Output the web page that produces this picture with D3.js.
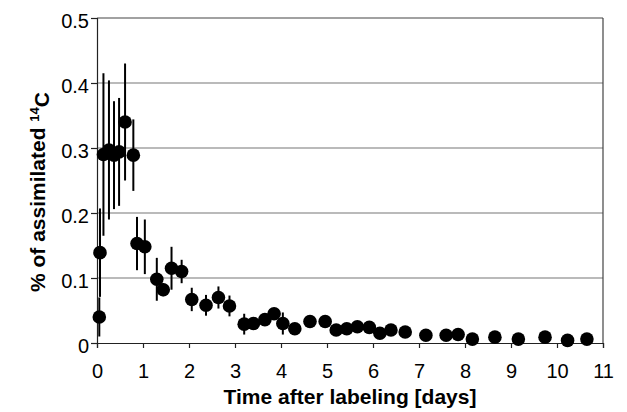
<!DOCTYPE html>
<html>
<head>
<meta charset="utf-8">
<script src="https://cdn.jsdelivr.net/npm/d3@7"></script>
<style>
body { margin: 0; background: #fff; }
svg text { font-family: "Liberation Sans", Arial, sans-serif; fill: #000; }
</style>
</head>
<body>
<script>
// time after labeling (days)
var days = [0.05, 0.065, 0.14, 0.26, 0.37, 0.48, 0.61, 0.79, 0.87, 1.04,
  1.30, 1.44, 1.62, 1.84, 2.06, 2.37, 2.64, 2.88, 3.20, 3.40,
  3.65, 3.85, 4.04, 4.30, 4.63, 4.96, 5.20, 5.43, 5.66, 5.92,
  6.15, 6.39, 6.70, 7.15, 7.59, 7.85, 8.16, 8.65, 9.16, 9.74,
  10.23, 10.65];
// % of assimilated 14C
var pct = [0.040, 0.139, 0.290, 0.297, 0.289, 0.294, 0.340, 0.289, 0.153, 0.148,
  0.098, 0.082, 0.115, 0.110, 0.067, 0.058, 0.070, 0.057, 0.029, 0.030,
  0.036, 0.045, 0.030, 0.022, 0.033, 0.033, 0.020, 0.022, 0.025, 0.024,
  0.015, 0.020, 0.017, 0.012, 0.012, 0.013, 0.006, 0.009, 0.006, 0.009,
  0.004, 0.006];
// error (+/-)
var err = [0.030, 0.068, 0.125, 0.107, 0.083, 0.083, 0.090, 0.055, 0.041, 0.042,
  0.033, 0.010, 0.033, 0.018, 0.018, 0.016, 0.017, 0.016, 0.016, 0.008,
  0.006, 0.009, 0.017, 0.005, 0.005, 0.005, 0.005, 0.005, 0.005, 0.005,
  0.004, 0.004, 0.004, 0.003, 0.003, 0.003, 0.003, 0.003, 0.003, 0.003,
  0.003, 0.003];
var xTicks = [0, 1, 2, 3, 4, 5, 6, 7, 8, 9, 10, 11];
var yTicks = [0, 0.1, 0.2, 0.3, 0.4, 0.5];

var W = 627, H = 412;
var pLeft = 97, pRight = 603, pTop = 18, pBottom = 343;

var svg = d3.select("body").append("svg")
  .attr("width", W)
  .attr("height", H);

var x = d3.scaleLinear().domain([0, 11]).range([pLeft, pRight]);
var y = d3.scaleLinear().domain([0, 0.5]).range([pBottom, pTop]);

// gridlines
svg.append("g").selectAll("line")
  .data(yTicks.filter(function(d){ return d > 0; }))
  .enter().append("line")
  .attr("x1", pLeft).attr("x2", pRight)
  .attr("y1", function(d){ return y(d); })
  .attr("y2", function(d){ return y(d); })
  .attr("stroke", function(d){ return d === 0.5 ? "#444" : "#777"; })
  .attr("stroke-width", 1.2);

// right border
svg.append("line")
  .attr("x1", pRight).attr("x2", pRight)
  .attr("y1", pTop).attr("y2", pBottom)
  .attr("stroke", "#444").attr("stroke-width", 1.2);

// axes
var xAxis = svg.append("g")
  .attr("transform", "translate(0," + pBottom + ")")
  .call(d3.axisBottom(x).tickValues(xTicks).tickSize(5).tickPadding(16).tickFormat(d3.format("d")));
var yAxis = svg.append("g")
  .attr("transform", "translate(" + pLeft + ",0)")
  .call(d3.axisLeft(y).tickValues(yTicks).tickSize(6).tickPadding(2)
    .tickFormat(function(d){ return d === 0 ? "0" : d3.format(".1f")(d); }));

[xAxis, yAxis].forEach(function(a){
  a.select(".domain").attr("stroke", "#222").attr("stroke-width", 1.2);
  a.selectAll(".tick line").attr("stroke", "#222").attr("stroke-width", 1.2);
  a.selectAll(".tick text")
    .style("font-family", "'Liberation Sans', Arial, sans-serif")
    .style("font-size", "20px")
    .attr("fill", "#000");
});
yAxis.selectAll(".tick text").attr("dy", "0.47em");

// error bars
var pts = days.map(function(d, i){ return {x: d, y: pct[i], e: err[i]}; });
svg.append("g").selectAll("line")
  .data(pts)
  .enter().append("line")
  .attr("x1", function(d){ return x(d.x); })
  .attr("x2", function(d){ return x(d.x); })
  .attr("y1", function(d){ return y(Math.max(0, d.y - d.e)); })
  .attr("y2", function(d){ return y(d.y + d.e); })
  .attr("stroke", "#000")
  .attr("stroke-width", 2);

// points
svg.append("g").selectAll("circle")
  .data(pts)
  .enter().append("circle")
  .attr("cx", function(d){ return x(d.x); })
  .attr("cy", function(d){ return y(d.y); })
  .attr("r", 6.8)
  .attr("fill", "#000");

// axis titles
svg.append("text")
  .attr("x", (pLeft + pRight) / 2)
  .attr("y", 404)
  .attr("text-anchor", "middle")
  .style("font-size", "21px")
  .style("font-weight", "bold")
  .text("Time after labeling [days]");

var yt = svg.append("text")
  .attr("transform", "translate(45,192) rotate(-90)")
  .attr("text-anchor", "middle")
  .style("font-size", "21px")
  .style("font-weight", "bold");
yt.append("tspan").text("% of assimilated ");
yt.append("tspan").attr("dy", "-0.45em").style("font-size", "13px").text("14");
yt.append("tspan").attr("dy", "0.45em").text("C");
</script>
</body>
</html>
